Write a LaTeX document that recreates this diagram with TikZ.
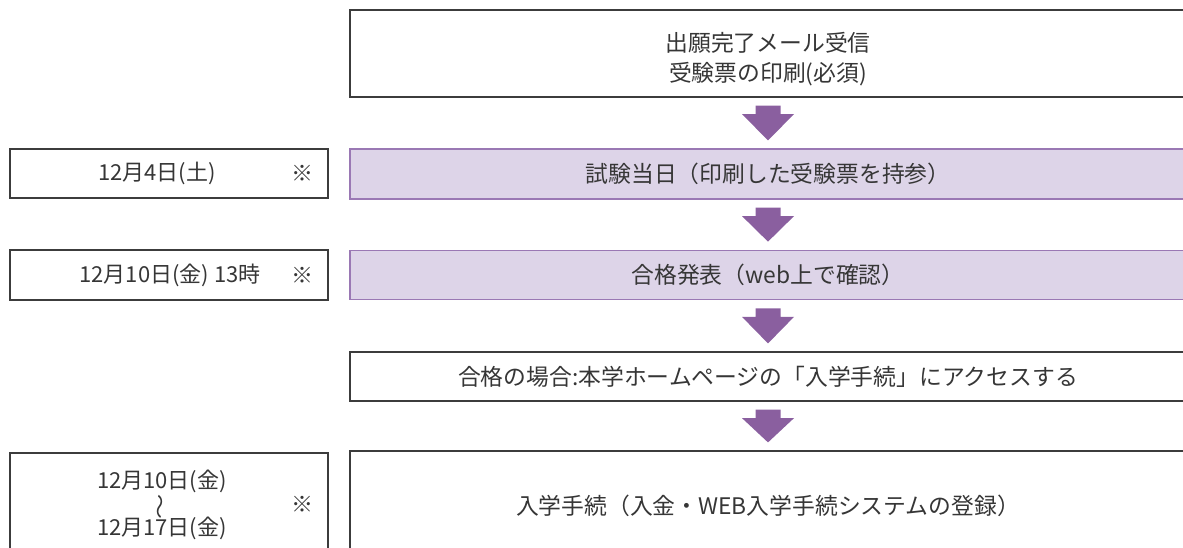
\documentclass[tikz,border=0pt]{standalone}
\usepackage{fontspec}
\setmainfont{Noto Sans CJK JP}
\usetikzlibrary{calc}
\definecolor{arrowpurple}{HTML}{8A5F9F}
\definecolor{lightpurple}{HTML}{DDD4E8}
\definecolor{purpleline}{HTML}{9A78B4}
\definecolor{boxline}{HTML}{3C3C3C}
\definecolor{txt}{HTML}{363636}
\newcommand\drawflowarrow[2]{%
  \fill[arrowpurple] ($(#1.south)+(-12.5,8)$) -- ($(#1.south)+(12.5,8)$)
    -- ($(#1.south)+(12.5,16.5)$) -- ($(#1.south)+(26,16.5)$)
    -- ($(#2.north)+(0,-8)$)
    -- ($(#1.south)+(-26,16.5)$) -- ($(#1.south)+(-12.5,16.5)$) -- cycle;}
\begin{document}
\begin{tikzpicture}[x=1pt,y=-1pt,
  mainbox/.style={draw=boxline, line width=1.2pt, fill=white, minimum width=836pt,
    inner sep=0pt, text=txt, font=\fontsize{22.8}{30}\selectfont, align=center},
  purplebox/.style={mainbox, draw=purpleline, fill=lightpurple},
  maintext/.style={text=txt, font=\fontsize{22.8}{30}\selectfont, inner sep=0pt, align=center},
  sidebox/.style={draw=boxline, line width=1.2pt, minimum width=318pt, inner sep=0pt},
  sidetext/.style={text=txt, font=\fontsize{22}{23.5}\selectfont, inner sep=0pt, align=center}]
\useasboundingbox (0,0) rectangle (1183,547);
\clip (0,0) rectangle (1183,547);
% main flow
\node[mainbox, minimum height=87pt] (b1) at (768,53.5) {};
\node[maintext] (t1) at (768,59) {出願完了メール受信\\受験票の印刷(必須)};
\node[purplebox, minimum height=50pt] (b2) at (768,174) {試験当日（印刷した受験票を持参）};
\node[purplebox, minimum height=49.5pt] (b3) at (768,275) {合格発表（web上で確認）};
\node[mainbox, minimum height=49pt] (b4) at (768,376.5) {合格の場合:本学ホームページの「入学手続」にアクセスする};
\node[mainbox, minimum height=110pt] (b5) at (768,506) {入学手続（入金・WEB入学手続システムの登録）};
\drawflowarrow{b1}{b2}
\drawflowarrow{b2}{b3}
\drawflowarrow{b3}{b4}
\drawflowarrow{b4}{b5}
% side boxes
\node[sidebox, minimum height=49pt] (sA) at (169,173.5) {};
\node[sidetext] (dA) at (157,173.5) {12月4日(土)};
\node[sidetext] (mA) at (302,173.5) {※};
\node[sidebox, minimum height=50pt] (sB) at (169,275) {};
\node[sidetext] (dB) at (170,275) {12月10日(金) 13時};
\node[sidetext] (mB) at (302,275) {※};
\node[sidebox, minimum height=110pt] (sC) at (169,508) {};
\node[sidetext] (dC) at (162,505) {12月10日(金)\\\smash{\rotatebox[origin=c]{90}{\scalebox{1.15}[0.9]{\fontsize{22}{22}\selectfont 〜}}}\\12月17日(金)};
\node[sidetext] (mC) at (302,504) {※};
\end{tikzpicture}
\end{document}
